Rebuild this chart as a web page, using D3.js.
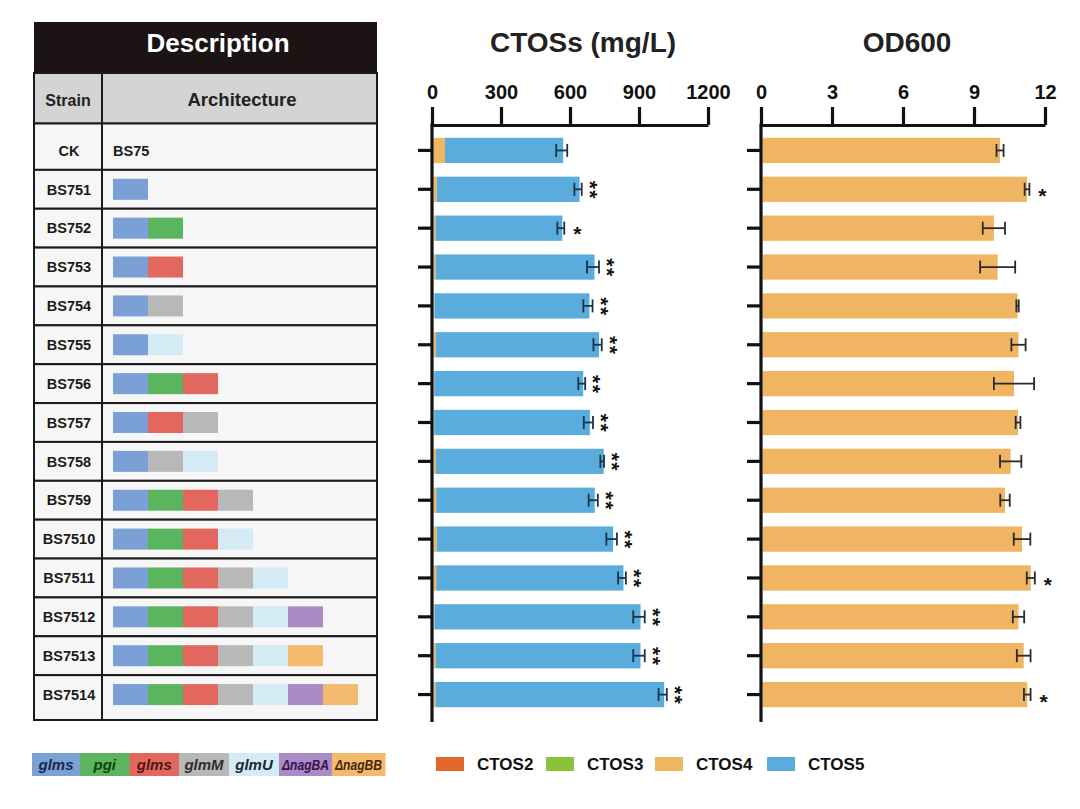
<!DOCTYPE html>
<html>
<head>
<meta charset="utf-8">
<script src="https://cdn.jsdelivr.net/npm/d3@7"></script>
<style>
  html, body { margin: 0; padding: 0; background: #fff; }
  svg { display: block; font-family: Arial, "Liberation Sans", sans-serif; }
</style>
</head>
<body>
<svg id="chart" width="1080" height="809"></svg>
<script>
// ---------- data ----------
const strains = ["CK","BS751","BS752","BS753","BS754","BS755","BS756","BS757","BS758","BS759","BS7510","BS7511","BS7512","BS7513","BS7514"];
const architecture = [
  [],
  ["glmsA"],
  ["glmsA","pgi"],
  ["glmsA","glmsB"],
  ["glmsA","glmM"],
  ["glmsA","glmU"],
  ["glmsA","pgi","glmsB"],
  ["glmsA","glmsB","glmM"],
  ["glmsA","glmM","glmU"],
  ["glmsA","pgi","glmsB","glmM"],
  ["glmsA","pgi","glmsB","glmU"],
  ["glmsA","pgi","glmsB","glmM","glmU"],
  ["glmsA","pgi","glmsB","glmM","glmU","nagBA"],
  ["glmsA","pgi","glmsB","glmM","glmU","nagBB"],
  ["glmsA","pgi","glmsB","glmM","glmU","nagBA","nagBB"]
];
const ckLabel = "BS75";
const geneKeys = ["glmsA","pgi","glmsB","glmM","glmU","nagBA","nagBB"];
const geneLabels = ["glms","pgi","glms","glmM","glmU","ΔnagBA","ΔnagBB"];

const ctosSeries = ["CTOS2","CTOS3","CTOS4","CTOS5"];
const ctos2 = [0,0,0,0,0,0,0,0,0,0,0,0,0,0,0];
const ctos3 = [0,0,0,0,0,0,0,0,0,0,0,0,0,0,0];
const ctos4 = [50,14,9,9,4,10,3,3,10,12,14,12,4,9,9];
const ctos5 = [514,621,551,691,674,710,648,677,730,689,767,814,896,891,994];
const ctosErr = [24,16,15,26,20,18,15,20,8,20,23,17,25,25,18];
const ctosSig = ["","**","*","**","**","**","**","**","**","**","**","**","**","**","**"];

const od600 = [10.1,11.24,9.84,10.0,10.84,10.88,10.69,10.86,10.55,10.31,11.03,11.4,10.88,11.1,11.25];
const odErr = [0.15,0.1,0.47,0.74,0.05,0.3,0.85,0.1,0.45,0.2,0.35,0.17,0.24,0.29,0.14];
const odSig = ["","*","","","","","","","","","","*","","","*"];

const ctosTicks = [0,300,600,900,1200];
const odTicks = [0,3,6,9,12];

// ---------- styles ----------
const geneColor = {glmsA:"#7ba0d6", pgi:"#5bb55f", glmsB:"#e2675f", glmM:"#b8b8b8", glmU:"#d4ebf6", nagBA:"#a98bc6", nagBB:"#f3ba6e"};
const geneTextColor = {glmsA:"#18284a", pgi:"#0f4414", glmsB:"#521414", glmM:"#2e2e2e", glmU:"#1a2636", nagBA:"#38124d", nagBB:"#45270a"};
const ctosColor = {CTOS2:"#e0662a", CTOS3:"#8bc23c", CTOS4:"#f0b662", CTOS5:"#59acdc"};
const odColor = "#f0b562";

const svg = d3.select("#chart");
const F = 'Arial, "Liberation Sans", sans-serif';

// ---------- scales ----------
const yBar = d3.scaleBand().domain(strains).range([131, 714]).paddingInner(0.35).paddingOuter(0.175);
const cy = s => yBar(s) + yBar.bandwidth()/2;
const xC = d3.scaleLinear().domain([0,1200]).range([432,708]);
const xO = d3.scaleLinear().domain([0,12]).range([761,1045]);

// ---------- table ----------
const tL = 34, tR = 377, tMid = 102, tTop = 123.5, tBot = 720;
const rowTop = (s, i) => i === 0 ? tTop : cy(s) - yBar.step()/2;
const rowBot = (s, i) => i === strains.length - 1 ? tBot : cy(s) + yBar.step()/2;

const tab = svg.append("g");
tab.append("rect").attr("x", tL).attr("y", 22).attr("width", tR - tL).attr("height", 51).attr("fill", "#1c1414");
tab.append("text").attr("x", 218).attr("y", 43).attr("dy", "0.36em").attr("text-anchor", "middle")
  .attr("fill", "#fff").attr("font-weight", "bold").attr("font-size", 26).text("Description");
tab.append("rect").attr("x", tL).attr("y", 73).attr("width", tR - tL).attr("height", tTop - 73)
  .attr("fill", "#d4d4d4").attr("stroke", "#1a1a1a").attr("stroke-width", 2);
tab.append("line").attr("x1", tMid).attr("x2", tMid).attr("y1", 73).attr("y2", tTop).attr("stroke", "#1a1a1a").attr("stroke-width", 2);
tab.append("text").attr("x", (tL + tMid)/2).attr("y", 100).attr("dy", "0.36em").attr("text-anchor", "middle")
  .attr("fill", "#222").attr("font-weight", "bold").attr("font-size", 16).text("Strain");
tab.append("text").attr("x", 242).attr("y", 99).attr("dy", "0.36em").attr("text-anchor", "middle")
  .attr("fill", "#222").attr("font-weight", "bold").attr("font-size", 18.5).text("Architecture");

const rows = tab.selectAll("g.row").data(strains).join("g").attr("class", "row");
rows.append("rect").attr("x", tL).attr("y", (d, i) => rowTop(d, i)).attr("width", tMid - tL)
  .attr("height", (d, i) => rowBot(d, i) - rowTop(d, i))
  .attr("fill", "#f6f6f6").attr("stroke", "#1a1a1a").attr("stroke-width", 2);
rows.append("rect").attr("x", tMid).attr("y", (d, i) => rowTop(d, i)).attr("width", tR - tMid)
  .attr("height", (d, i) => rowBot(d, i) - rowTop(d, i))
  .attr("fill", "#f6f6f6").attr("stroke", "#1a1a1a").attr("stroke-width", 2);
rows.append("text").attr("x", 69).attr("y", d => cy(d)).attr("dy", "0.36em")
  .attr("text-anchor", "middle").attr("font-weight", "bold").attr("font-size", 14.5).attr("fill", "#1a1a1a").text(d => d);

// CK label
tab.append("text").attr("x", 113).attr("y", cy("CK")).attr("dy", "0.36em")
  .attr("font-weight", "bold").attr("font-size", 14.5).attr("fill", "#1a1a1a").text(ckLabel);

// gene blocks
const blockW = 35, blockH = 21, blockX0 = 113;
strains.forEach((s, i) => {
  tab.selectAll(null).data(architecture[i]).join("rect")
    .attr("x", (g, j) => blockX0 + j * blockW)
    .attr("y", cy(s) - blockH/2)
    .attr("width", blockW).attr("height", blockH)
    .attr("fill", g => geneColor[g]);
});

// gene legend
const lgX = [32, 80, 129.5, 179, 229, 279, 332, 385];
const lgY = 753, lgH = 23;
const glg = svg.append("g");
glg.selectAll("rect").data(geneKeys).join("rect")
  .attr("x", (g, i) => lgX[i]).attr("y", lgY).attr("width", (g, i) => lgX[i+1] - lgX[i] + 0.5).attr("height", lgH)
  .attr("fill", g => geneColor[g]);
glg.selectAll("text").data(geneKeys).join("text")
  .attr("x", (g, i) => (lgX[i] + lgX[i+1]) / 2).attr("y", lgY + lgH/2).attr("dy", "0.36em")
  .attr("text-anchor", "middle").attr("font-style", "italic").attr("font-weight", "bold")
  .attr("font-size", (g, i) => geneLabels[i].length > 5 ? 14 : 15)
  .attr("textLength", (g, i) => geneLabels[i].length > 5 ? 47 : null)
  .attr("lengthAdjust", "spacingAndGlyphs")
  .attr("fill", g => geneTextColor[g])
  .text((g, i) => geneLabels[i]);

// ---------- axes helper ----------
function topAxis(scale, ticks, title, titleX) {
  const g = svg.append("g").attr("transform", "translate(0,125)")
    .call(d3.axisTop(scale).tickValues(ticks).tickFormat(d3.format("d")).tickSize(18).tickSizeOuter(0).tickPadding(8));
  g.select(".domain").attr("stroke", "#111").attr("stroke-width", 3.2);
  g.selectAll(".tick line").attr("stroke", "#111").attr("stroke-width", 3.2);
  g.selectAll(".tick text").attr("font-family", F).attr("font-size", 20).attr("font-weight", "bold").attr("fill", "#111");
  svg.append("text").attr("x", titleX).attr("y", 42).attr("dy", "0.36em").attr("text-anchor", "middle")
    .attr("font-weight", "bold").attr("font-size", 28).attr("fill", "#222").text(title);
}
function leftAxis(x0) {
  const g = svg.append("g").attr("transform", `translate(${x0},0)`)
    .call(d3.axisLeft(yBar).tickSize(14).tickSizeOuter(0).tickFormat(""));
  g.select(".domain").remove();
  g.selectAll(".tick line").attr("stroke", "#111").attr("stroke-width", 3.2);
  svg.append("line").attr("x1", x0).attr("x2", x0).attr("y1", 123.5).attr("y2", 722)
    .attr("stroke", "#111").attr("stroke-width", 3.2);
}

// ---------- CTOS chart ----------
const ctosTable = strains.map((s, i) => ({strain: s, CTOS2: ctos2[i], CTOS3: ctos3[i], CTOS4: ctos4[i], CTOS5: ctos5[i]}));
const stack = d3.stack().keys(["CTOS4","CTOS2","CTOS3","CTOS5"])(ctosTable);
const cg = svg.append("g");
cg.selectAll("g").data(stack).join("g").attr("fill", d => ctosColor[d.key])
  .selectAll("rect").data(d => d).join("rect")
  .attr("x", d => xC(d[0]) + 1.5).attr("y", d => yBar(d.data.strain))
  .attr("width", d => Math.max(0, xC(d[1]) - xC(d[0])))
  .attr("height", yBar.bandwidth());

const ctosTotal = strains.map((s, i) => ctos2[i] + ctos3[i] + ctos4[i] + ctos5[i]);
function errorBars(g, scale, vals, errs, color) {
  strains.forEach((s, i) => {
    const y = cy(s);
    const a = scale(vals[i] - errs[i]), b = scale(vals[i] + errs[i]);
    g.append("line").attr("x1", a).attr("x2", b).attr("y1", y).attr("y2", y).attr("stroke", color).attr("stroke-width", 1.8);
    [a, b].forEach(x => g.append("line").attr("x1", x).attr("x2", x).attr("y1", y - 6.5).attr("y2", y + 6.5)
      .attr("stroke", color).attr("stroke-width", 1.8));
  });
}
errorBars(cg, xC, ctosTotal, ctosErr, "#1b3348");

function star(x, y) {
  svg.append("text").attr("x", x).attr("y", y).attr("dy", "0.62em")
    .attr("text-anchor", "middle").attr("font-weight", "bold").attr("font-size", 21)
    .attr("fill", "#111").text("*");
}
// CTOS significance: "**" drawn as one vertical (rotated) label
strains.forEach((s, i) => {
  if (!ctosSig[i]) return;
  const x = xC(ctosTotal[i] + ctosErr[i]) + 13;
  if (ctosSig[i] === "**") {
    svg.append("text").attr("transform", `translate(${x},${cy(s) + 1}) rotate(90)`)
      .attr("text-anchor", "middle").attr("dy", "0.56em").attr("letter-spacing", 1.5)
      .attr("font-weight", "bold").attr("font-size", 21).attr("fill", "#111").text("**");
  } else {
    star(x, cy(s));
  }
});

topAxis(xC, ctosTicks, "CTOSs (mg/L)", 583);
leftAxis(432);

// ---------- OD600 chart ----------
const og = svg.append("g");
og.selectAll("rect").data(strains).join("rect")
  .attr("x", xO(0) + 1.5).attr("y", d => yBar(d))
  .attr("width", (d, i) => xO(od600[i]) - xO(0) - 1.5).attr("height", yBar.bandwidth())
  .attr("fill", odColor);
errorBars(og, xO, od600, odErr, "#2a2a2a");
strains.forEach((s, i) => {
  if (!odSig[i]) return;
  star(xO(od600[i] + odErr[i]) + 13, cy(s) + 1);
});
topAxis(xO, odTicks, "OD600", 907);
leftAxis(761);

// ---------- CTOS legend ----------
const clg = svg.append("g");
const legX = [436, 546, 655, 767];
clg.selectAll("rect").data(ctosSeries).join("rect")
  .attr("x", (d, i) => legX[i]).attr("y", 757).attr("width", 28).attr("height", 14)
  .attr("fill", d => ctosColor[d]);
clg.selectAll("text").data(ctosSeries).join("text")
  .attr("x", (d, i) => legX[i] + 41).attr("y", 764).attr("dy", "0.36em")
  .attr("font-weight", "bold").attr("font-size", 17).attr("fill", "#111").text(d => d);
</script>
</body>
</html>
